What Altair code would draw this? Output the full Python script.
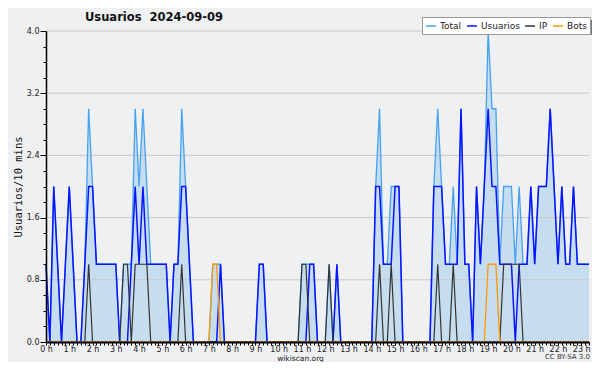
import altair as alt
import pandas as pd

# 10-minute slots of the day (0 = 00:00, 140 = 23:20)
slot = list(range(141))

total = [1, 0, 2, 1, 0, 1, 2, 1, 0, 0,
         1, 3, 2, 1, 1, 1, 1, 1, 1, 0,
         1, 1, 1, 3, 2, 3, 2, 1, 1, 1,
         1, 1, 0, 1, 1, 3, 2, 1, 0, 0,
         0, 0, 0, 1, 1, 1, 0, 0, 0, 0,
         0, 0, 0, 0, 0, 1, 1, 0, 0, 0,
         0, 0, 0, 0, 0, 0, 1, 1, 1, 1,
         0, 0, 0, 1, 0, 1, 0, 0, 0, 0,
         0, 0, 0, 0, 0, 2, 3, 1, 1, 2,
         2, 2, 0, 0, 0, 0, 0, 0, 0, 0,
         2, 3, 2, 1, 1, 2, 1, 3, 1, 1,
         0, 2, 1, 2, 4, 3, 3, 1, 2, 2,
         2, 1, 2, 1, 1, 2, 1, 2, 2, 2,
         3, 2, 1, 2, 1, 1, 2, 1, 1, 1,
         1]

usuarios = [1, 0, 2, 1, 0, 1, 2, 1, 0, 0,
            1, 2, 2, 1, 1, 1, 1, 1, 1, 0,
            0, 0, 1, 2, 1, 2, 1, 1, 1, 1,
            1, 1, 0, 1, 1, 2, 2, 1, 0, 0,
            0, 0, 0, 0, 0, 1, 0, 0, 0, 0,
            0, 0, 0, 0, 0, 1, 1, 0, 0, 0,
            0, 0, 0, 0, 0, 0, 0, 0, 1, 1,
            0, 0, 0, 0, 0, 1, 0, 0, 0, 0,
            0, 0, 0, 0, 0, 2, 2, 1, 1, 1,
            2, 2, 0, 0, 0, 0, 0, 0, 0, 0,
            2, 2, 2, 1, 1, 1, 1, 3, 1, 1,
            0, 2, 1, 2, 3, 2, 2, 1, 1, 1,
            1, 0, 1, 1, 1, 2, 1, 2, 2, 2,
            3, 2, 1, 2, 1, 1, 2, 1, 1, 1,
            1]

ip = [0, 0, 0, 0, 0, 0, 0, 0, 0, 0,
      0, 1, 0, 0, 0, 0, 0, 0, 0, 0,
      1, 1, 0, 1, 1, 1, 1, 0, 0, 0,
      0, 0, 0, 0, 0, 1, 0, 0, 0, 0,
      0, 0, 0, 0, 0, 0, 0, 0, 0, 0,
      0, 0, 0, 0, 0, 0, 0, 0, 0, 0,
      0, 0, 0, 0, 0, 0, 1, 1, 0, 0,
      0, 0, 0, 1, 0, 0, 0, 0, 0, 0,
      0, 0, 0, 0, 0, 0, 1, 0, 0, 1,
      0, 0, 0, 0, 0, 0, 0, 0, 0, 0,
      0, 1, 0, 0, 0, 1, 0, 0, 0, 0,
      0, 0, 0, 0, 0, 0, 0, 0, 1, 1,
      1, 1, 1, 0, 0, 0, 0, 0, 0, 0,
      0, 0, 0, 0, 0, 0, 0, 0, 0, 0,
      0]

bots = [0, 0, 0, 0, 0, 0, 0, 0, 0, 0,
        0, 0, 0, 0, 0, 0, 0, 0, 0, 0,
        0, 0, 0, 0, 0, 0, 0, 0, 0, 0,
        0, 0, 0, 0, 0, 0, 0, 0, 0, 0,
        0, 0, 0, 1, 1, 0, 0, 0, 0, 0,
        0, 0, 0, 0, 0, 0, 0, 0, 0, 0,
        0, 0, 0, 0, 0, 0, 0, 0, 0, 0,
        0, 0, 0, 0, 0, 0, 0, 0, 0, 0,
        0, 0, 0, 0, 0, 0, 0, 0, 0, 0,
        0, 0, 0, 0, 0, 0, 0, 0, 0, 0,
        0, 0, 0, 0, 0, 0, 0, 0, 0, 0,
        0, 0, 0, 0, 1, 1, 1, 0, 0, 0,
        0, 0, 0, 0, 0, 0, 0, 0, 0, 0,
        0, 0, 0, 0, 0, 0, 0, 0, 0, 0,
        0]

series_names = ["Total", "Usuarios", "IP", "Bots"]
series_colors = ["#45a2f0", "#0a14ff", "#333333", "#ff9a00"]
area_fill = "#c6ddf0"

y_ticks = [0.0, 0.2, 0.4, 0.6, 0.8, 1.0, 1.2, 1.4, 1.6, 1.8, 2.0,
           2.2, 2.4, 2.6, 2.8, 3.0, 3.2, 3.4, 3.6, 3.8, 4.0]
y_grid = [0.8, 1.6, 2.4, 3.2, 4.0]

df = pd.DataFrame({"slot": slot, "Total": total, "Usuarios": usuarios,
                   "IP": ip, "Bots": bots})
grid_df = pd.DataFrame({"g": y_grid})
one_df = pd.DataFrame({"a": [0]})

major = "round(datum.value * 10) % 8 == 0"

x_scale = alt.Scale(domain=[0, 140], nice=False, zero=False)
y_scale = alt.Scale(domain=[0, 4], nice=False)

x_axis = alt.Axis(values=slot,
                  labelExpr="datum.value % 6 == 0 ? (datum.value / 6) + ' h' : ''",
                  tickSize=3, tickColor="black", domainColor="black", domainWidth=2,
                  labelFont="DejaVu Sans", labelFontSize=8, labelColor="#222",
                  labelPadding=0, labelOverlap=False, labelFlush=False, grid=False,
                  title="wikiscan.org", titleFont="DejaVu Sans", titleFontSize=7.5,
                  titleFontWeight="normal", titleColor="#222", titleX=254, titleY=12.5,
                  zindex=1)

y_axis = alt.Axis(values=y_ticks,
                  labelExpr=major + " ? format(datum.value, '.1f') : ''",
                  tickSize={"condition": {"test": major, "value": 6}, "value": 3},
                  tickColor="black", domainColor="black", domainWidth=1.5,
                  labelFont="DejaVu Sans", labelFontSize=8, labelColor="#222",
                  labelPadding=1, labelOverlap=False, grid=False,
                  title="Usuarios/10 mins", titleFont="DejaVu Sans Mono",
                  titleFontSize=10.5, titleFontWeight="normal", titleColor="#111",
                  titlePadding=3, zindex=1)

X = alt.X("slot:Q", scale=x_scale, axis=x_axis)

area = alt.Chart(df).mark_area(color=area_fill, opacity=1).encode(
    x=X, y=alt.Y("Total:Q", scale=y_scale, axis=y_axis))

grid = alt.Chart(grid_df).mark_rule(color="#c8c8c8", strokeWidth=1).encode(
    y=alt.Y("g:Q", scale=y_scale, axis=y_axis))

color = alt.Color("series:N",
                  scale=alt.Scale(domain=series_names, range=series_colors),
                  legend=alt.Legend(orient="none", legendX=376, legendY=-14,
                                    direction="horizontal", columns=4, title=None,
                                    symbolType="stroke", symbolStrokeWidth=1.5,
                                    symbolSize=100, labelFont="DejaVu Sans",
                                    labelFontSize=9, labelColor="#222",
                                    fillColor="white", strokeColor="#999999",
                                    padding=3, columnPadding=2, labelOffset=3,
                                    zindex=2))

shadow = alt.Chart(one_df).mark_rect(color="#777777").encode(
    x=alt.value(379), x2=alt.value(546), y=alt.value(-11), y2=alt.value(4))

lines = []
for name, w in zip(series_names, [1.3, 1.5, 1.2, 1.3]):
    lines.append(
        alt.Chart(df).transform_fold(series_names, as_=["series", "value"])
        .transform_filter(alt.datum.series == name)
        .mark_line(strokeWidth=w, interpolate="linear")
        .encode(x=X, y=alt.Y("value:Q", scale=y_scale, axis=y_axis), color=color)
    )

title = alt.Chart(one_df).mark_text(text="Usuarios\u00a0 2024-09-09", font="DejaVu Sans",
                                    fontSize=11.5, fontWeight="bold", align="left",
                                    baseline="alphabetic", color="#111").encode(
    x=alt.value(39), y=alt.value(-10))

cc = alt.Chart(one_df).mark_text(text="CC BY-SA 3.0", font="DejaVu Sans", fontSize=7,
                                 align="right", baseline="middle", color="#333").encode(
    x=alt.value(544), y=alt.value(326))

chart = alt.layer(area, grid, shadow, *lines, title, cc).properties(
    width=543, height=311,
    background="#eff0f1",
    padding={"left": 38, "top": 23, "right": 3, "bottom": 20},
    autosize=alt.AutoSizeParams(type="none"),
).configure_view(stroke=None)

chart.save("out.html", embed_options={"renderer": "svg", "actions": False})
